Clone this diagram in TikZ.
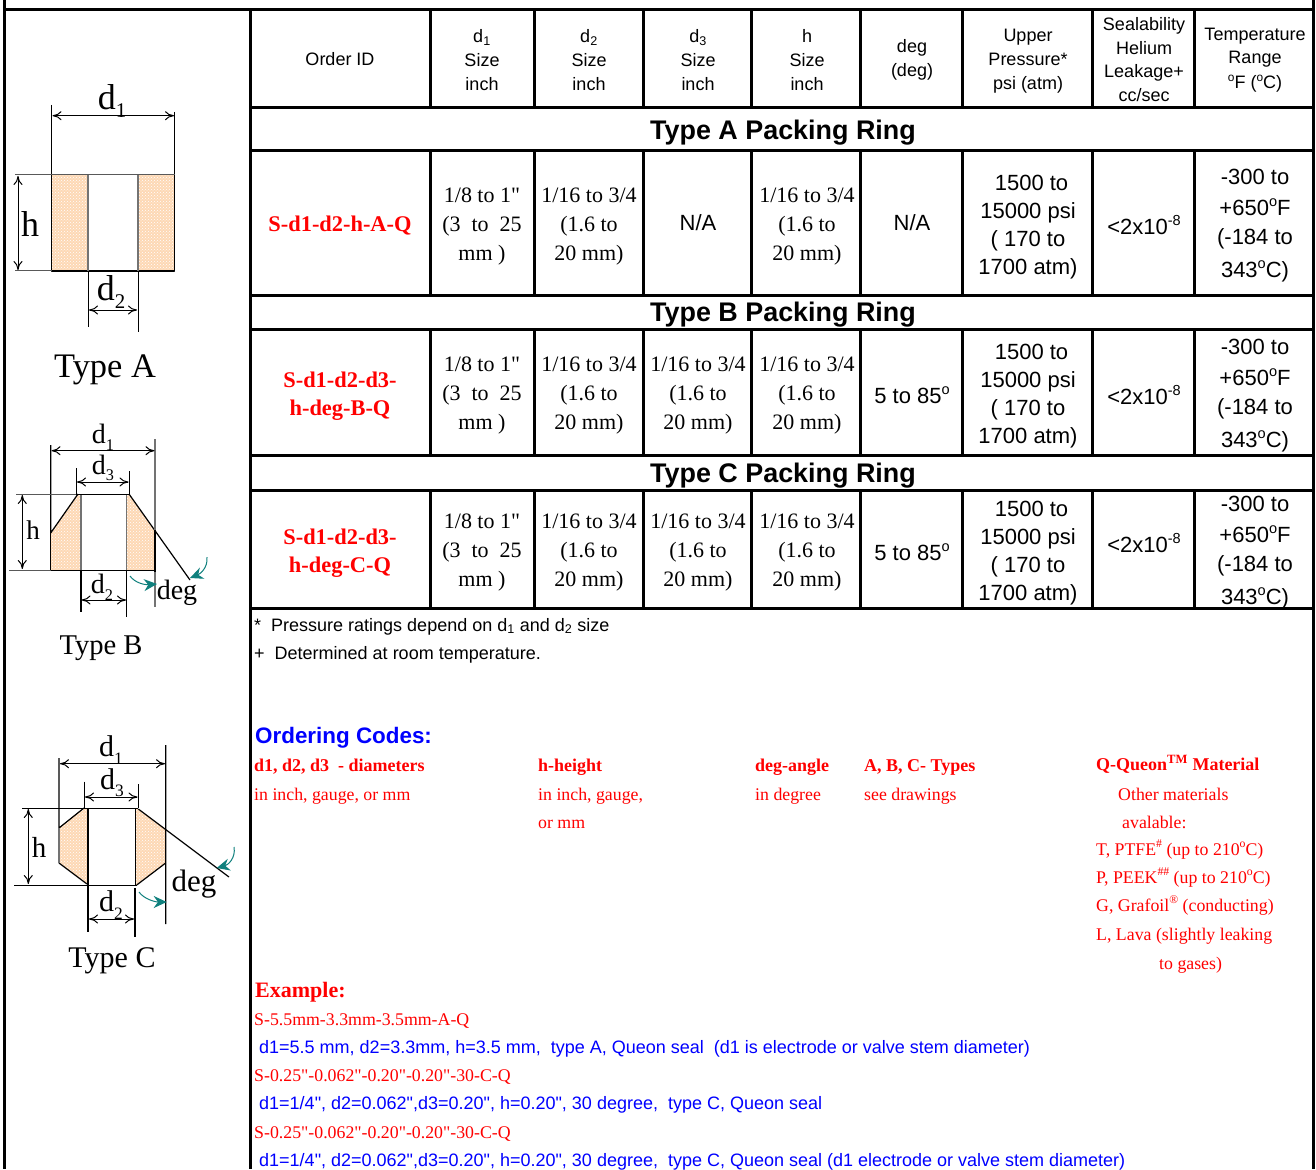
\documentclass[tikz,border=0pt]{standalone}
\usepackage{fontspec}
\usepackage{graphicx}
\setmainfont{Liberation Serif}[Ligatures=TeXOff]
\setsansfont{Liberation Sans}[Ligatures=TeXOff]
\usetikzlibrary{arrows.meta,patterns}
\definecolor{ringfill}{RGB}{253,216,180}
\definecolor{degteal}{RGB}{15,128,125}
\definecolor{idred}{RGB}{255,0,0}
\definecolor{codeblue}{RGB}{0,0,255}
\newcommand{\fs}[2]{\fontsize{#1}{#2}\selectfont}
\newcommand{\supr}[1]{\raisebox{.42em}{\scalebox{.66}{#1}}}
\newcommand{\lsub}[1]{\raisebox{-.24em}{\scalebox{.58}{#1}}}
\tikzset{
	grid/.style={line width=3pt,line cap=rect},
	dimline/.style={line width=1pt},
	edgegray/.style={line width=1.2pt,black!55},
	dimarrow/.style={line width=1pt,{To[length=9pt,width=9pt]}-{To[length=9pt,width=9pt]}},
	degarrow/.style={degteal,line width=1pt,-{Stealth[length=13pt,width=12pt]}},
	ring/.style={fill=ringfill,draw=none,postaction={pattern=crosshatch dots,pattern color=white}},
	edge/.style={line width=1.2pt},
	head/.style={font=\sffamily\fs{18}{23.8},align=center,inner sep=0pt},
	cellserif/.style={font=\fs{22}{29},align=center,inner sep=0pt},
	cellsans/.style={font=\sffamily\fs{22}{28},align=center,inner sep=0pt},
	orderid/.style={font=\bfseries\fs{22.4}{28},text=idred,align=center,inner sep=0pt},
	typehead/.style={font=\sffamily\bfseries\fs{26.9}{30},inner sep=0pt},
	note/.style={font=\sffamily\fs{18}{22},anchor=base west,inner sep=0pt},
	redtxt/.style={font=\fs{17.8}{22},text=idred,anchor=base west,inner sep=0pt},
	redbold/.style={font=\bfseries\fs{18}{22},text=idred,anchor=base west,inner sep=0pt},
	bluetxt/.style={font=\sffamily\fs{18}{22},text=codeblue,anchor=base west,inner sep=0pt},
	dlabel/.style={inner sep=0pt},
}
\begin{document}
\begin{tikzpicture}[x=1pt,y=-1pt,line join=round]
	\useasboundingbox[fill=white] (0,0) rectangle (1316,1169);
	% outer frame
	\draw[line width=3pt] (4,0)--(4,1169);
	\draw[line width=3pt] (250,10)--(250,1169);
	\draw[grid] (4,10)--(1313,10);
	\draw[line width=3pt] (1313,0)--(1313,1169);
	\foreach \y in {108,151,295,329,455,490,608}
	\draw[grid] (250,\y)--(1313,\y);
	\foreach \x in {430,534,643,751,860,962,1092,1194}
	{
		\draw[grid] (\x,10)--(\x,108);
		\draw[grid] (\x,151)--(\x,295);
		\draw[grid] (\x,329)--(\x,455);
		\draw[grid] (\x,490)--(\x,608);
	}
	% header row
	\node[head] (hdorder) at (340,59) {Order ID};
	\node[head] (hdone) at (482,60) {d\textsubscript{1}\\Size\\inch};
	\node[head] (hdtwo) at (589,60) {d\textsubscript{2}\\Size\\inch};
	\node[head] (hdthree) at (698,60) {d\textsubscript{3}\\Size\\inch};
	\node[head] (hdh) at (807,60) {h\\Size\\inch};
	\node[head] (hddeg) at (912,60) {deg\\(deg)};
	\node[head] (hdupper) at (1028,61) {Upper\\Pressure*\\psi (atm)};
	\node[head] (hdseal) at (1144,59.5) {Sealability\\Helium\\Leakage+\\cc/sec};
	\node[head] (hdtemp) at (1255,60) {Temperature\\Range\\[1pt]\supr{o}F (\supr{o}C)};
	% type titles
	\node[typehead] (titlea) at (783,132.5) {Type A Packing Ring};
	\node[typehead] (titleb) at (783,314.5) {Type B Packing Ring};
	\node[typehead] (titlec) at (783,475.5) {Type C Packing Ring};
	% order ids
	\node[orderid] (ida) at (340,226) {S-d1-d2-h-A-Q};
	\node[orderid] (idb) at (340,396) {S-d1-d2-d3-\\h-deg-B-Q};
	\node[orderid] (idc) at (340,553) {S-d1-d2-d3-\\h-deg-C-Q};
	% size cells
	\foreach \rowname/\ymid in {a/227,b/396,c/553}
	{
		\node[cellserif] (done\rowname) at (482,\ymid) {1/8 to 1"\\(3\ \ to\ \ 25\\mm )};
		\node[cellserif] (dtwo\rowname) at (589,\ymid) {1/16 to 3/4\\(1.6 to\\20 mm)};
		\node[cellserif] (hgt\rowname) at (807,\ymid) {1/16 to 3/4\\(1.6 to\\20 mm)};
	}
	\foreach \rowname/\ymid in {a/227,b/396.5,c/553}
	\node[cellsans] (press\rowname) at (1028,\ymid) {\hspace*{7pt}1500 to\\15000 psi\\( 170 to\\1700 atm)};
	\foreach \rowname/\ymid in {a/226,b/395.5,c/552.5}
	\node[cellsans] (temp\rowname) at (1255,\ymid) {-300 to\\[3pt]+650\supr{o}F\\[1pt](-184 to\\[5pt]343\supr{o}C)};
	\foreach \rowname/\ymid in {b/396,c/553}
	{
		\node[cellserif] (dthree\rowname) at (698,\ymid) {1/16 to 3/4\\(1.6 to\\20 mm)};
		\node[cellsans] (deg\rowname) at (912,\ymid-1) {5 to 85\supr{o}};
	}
	\node[cellsans] (dthreea) at (698,223) {N/A};
	\node[cellsans] (dega) at (912,223) {N/A};
	\foreach \rowname/\ymid in {a/225,b/395,c/543}
	\node[cellsans] (seal\rowname) at (1144,\ymid) {<2x10\supr{-8}};
	% notes
	\node[note] (notestar) at (254,631) {*\ \ Pressure ratings depend on d\textsubscript{1} and d\textsubscript{2} size};
	\node[note] (noteplus) at (254,659) {+\ \ Determined at room temperature.};
	\node[font=\sffamily\bfseries\fs{22.4}{26},text=codeblue,anchor=base west,inner sep=0pt] (codes) at (255,743) {Ordering Codes:};
	\node[redbold] (cdiam) at (254,771) {d1, d2, d3\ \ - diameters};
	\node[redtxt] (cdiamb) at (254,800) {in inch, gauge, or mm};
	\node[redbold] (cheight) at (538,771) {h-height};
	\node[redtxt] (cheightb) at (538,800) {in inch, gauge,};
	\node[redtxt] (cheightc) at (538,828) {or mm};
	\node[redbold] (cangle) at (755,771) {deg-angle};
	\node[redtxt] (cangleb) at (755,800) {in degree};
	\node[redbold] (ctypes) at (864,771) {A, B, C- Types};
	\node[redtxt] (ctypesb) at (864,800) {see drawings};
	\node[redbold] (cmat) at (1096,770) {Q-Queon\textsuperscript{TM} Material};
	\node[redtxt] (cmatb) at (1118,800) {Other materials};
	\node[redtxt] (cmatc) at (1122,828) {avalable:};
	\node[redtxt] (cmatd) at (1096,855) {T, PTFE\supr{\#} (up to 210\supr{o}C)};
	\node[redtxt] (cmate) at (1096,883) {P, PEEK\supr{\#\#} (up to 210\supr{o}C)};
	\node[redtxt] (cmatf) at (1096,911) {G, Grafoil\supr{\textregistered} (conducting)};
	\node[redtxt] (cmatg) at (1096,940) {L, Lava (slightly leaking};
	\node[redtxt] (cmath) at (1159,969) {to gases)};
	% example
	\node[font=\bfseries\fs{22}{26},text=idred,anchor=base west,inner sep=0pt] (exhead) at (255,997) {Example:};
	\node[redtxt] (exa) at (254,1025) {S-5.5mm-3.3mm-3.5mm-A-Q};
	\node[bluetxt] (exab) at (259,1053) {d1=5.5 mm, d2=3.3mm, h=3.5 mm,\ \ type A, Queon seal\ \ (d1 is electrode or valve stem diameter)};
	\node[redtxt] (exc) at (254,1081) {S-0.25"-0.062"-0.20"-0.20"-30-C-Q};
	\node[bluetxt] (excb) at (259,1109) {d1=1/4", d2=0.062",d3=0.20", h=0.20", 30 degree,\ \ type C, Queon seal};
	\node[redtxt] (exd) at (254,1138) {S-0.25"-0.062"-0.20"-0.20"-30-C-Q};
	\node[bluetxt] (exdb) at (259,1166) {d1=1/4", d2=0.062",d3=0.20", h=0.20", 30 degree,\ \ type C, Queon seal (d1 electrode or valve stem diameter)};
	% Type A
	\path[ring] (52,175) rectangle (88,271);
	\path[ring] (138,175) rectangle (174.5,271);
	\draw[edge] (51.5,105)--(51.5,271)--(88,271) (88,271)--(138,271) (174.5,112)--(174.5,271)--(138,271);
	\draw[edgegray] (88,175)--(88,271) (138,175)--(138,271);
	\draw[dimline,black!65] (15,175)--(174.5,175) (15,270.7)--(52,270.7);
	\draw[dimline] (88,271)--(88,327) (138,271)--(138,332);
	\draw[dimarrow] (52.5,115.7)--(174,115.7);
	\draw[dimarrow] (18,176)--(18,270);
	\draw[dimarrow] (89,310)--(137,310);
	\node[dlabel,font=\fs{36}{36}] (ada) at (112,101) {d\lsub{1}};
	\node[dlabel,font=\fs{36}{36}] (adb) at (111,292) {d\lsub{2}};
	\node[dlabel,font=\fs{36}{36}] (ah) at (30,224) {h};
	\node[dlabel,font=\fs{34.4}{36}] (atype) at (105,370) {Type A};
	% Type B
	\path[ring] (51,570)--(51,532)--(78,494)--(81,494)--(81,570)--cycle;
	\path[ring] (127,570)--(127,494)--(129,494)--(155,532)--(155,570)--cycle;
	\draw[edge] (50.7,445)--(50.7,533)--(78,494) (129,494)--(190,580);
	\draw[edgegray] (81,494)--(81,570) (126.7,494)--(126.7,570);
	\draw[edge] (81,570)--(81,612) (126.7,570)--(126.7,617);
	\draw[edgegray] (155,439)--(155,530) (155,572)--(155,607);
	\draw[edge] (155,530)--(155,572);
	\draw[dimline,black!65] (16,494)--(76,494) (9,570)--(51,570);
	\draw[dimline] (76,494)--(129,494) (51,570)--(155,570) (50.7,533)--(50.7,570);
	\draw[dimline] (76.3,468)--(76.3,494) (129,471)--(129,494);
	\draw[dimarrow] (51.5,450.7)--(154.5,450.7);
	\draw[dimarrow] (77,482)--(128.5,482);
	\draw[dimarrow] (22.3,495)--(22.3,569);
	\draw[dimarrow] (81.5,600)--(126,600);
	\draw[degarrow] (130,576) .. controls (135,583) and (145,585) .. (157,584);
	\draw[degarrow] (207,557) .. controls (208,568) and (200,574) .. (190,578);
	\node[dlabel,font=\fs{28}{28}] (bda) at (103,437) {d\lsub{1}};
	\node[dlabel,font=\fs{28}{28}] (bdc) at (103,468) {d\lsub{3}};
	\node[dlabel,font=\fs{28}{28}] (bdb) at (102,587) {d\lsub{2}};
	\node[dlabel,font=\fs{27}{27}] (bh) at (33,530) {h};
	\node[dlabel,font=\fs{28}{28}] (bdeg) at (177,593) {deg};
	\node[dlabel,font=\fs{28.6}{30}] (btype) at (101,648) {Type B};
	% Type C
	\path[ring] (59,828)--(84,808)--(88,808)--(88,885)--(87,884)--(59,863)--cycle;
	\path[ring] (135.7,808)--(138.3,809)--(165.7,829)--(165.7,863)--(136.7,885)--(135.7,885)--cycle;
	\draw[edge] (59,758)--(59,828) (59,828)--(84,808) (59,863)--(87,884) (138.3,809)--(229,877);
	\draw[edgegray] (59,828)--(59,863);
	\draw[edge] (165.7,745)--(165.7,924) (165.7,863)--(136.7,885);
	\draw[edge] (88,808)--(88,932) (135.7,808)--(135.7,885) (135,888)--(135,937);
	\draw[dimline] (22,808.3)--(138.3,808.3) (14,885)--(136.7,885);
	\draw[dimline] (84,781.7)--(84,808) (138.3,784)--(138.3,808);
	\draw[dimarrow] (60,763.7)--(165,763.7);
	\draw[dimarrow] (85,797)--(137.5,797);
	\draw[dimarrow] (28.3,809)--(28.3,884);
	\draw[dimarrow] (89,919)--(134,919);
	\draw[degarrow] (139,892) .. controls (144,899) and (155,902) .. (166.7,902);
	\draw[degarrow] (234,847) .. controls (236,858) and (228,865) .. (216.7,868);
	\node[dlabel,font=\fs{30}{30}] (cda) at (111,750) {d\lsub{1}};
	\node[dlabel,font=\fs{30}{30}] (cdc) at (112,783) {d\lsub{3}};
	\node[dlabel,font=\fs{30}{30}] (cdb) at (111,905) {d\lsub{2}};
	\node[dlabel,font=\fs{29}{29}] (ch) at (39,847) {h};
	\node[dlabel,font=\fs{31}{31}] (cdeg) at (194,884) {deg};
	\node[dlabel,font=\fs{30}{30}] (ctype) at (112,961) {Type C};
\end{tikzpicture}
\end{document}
